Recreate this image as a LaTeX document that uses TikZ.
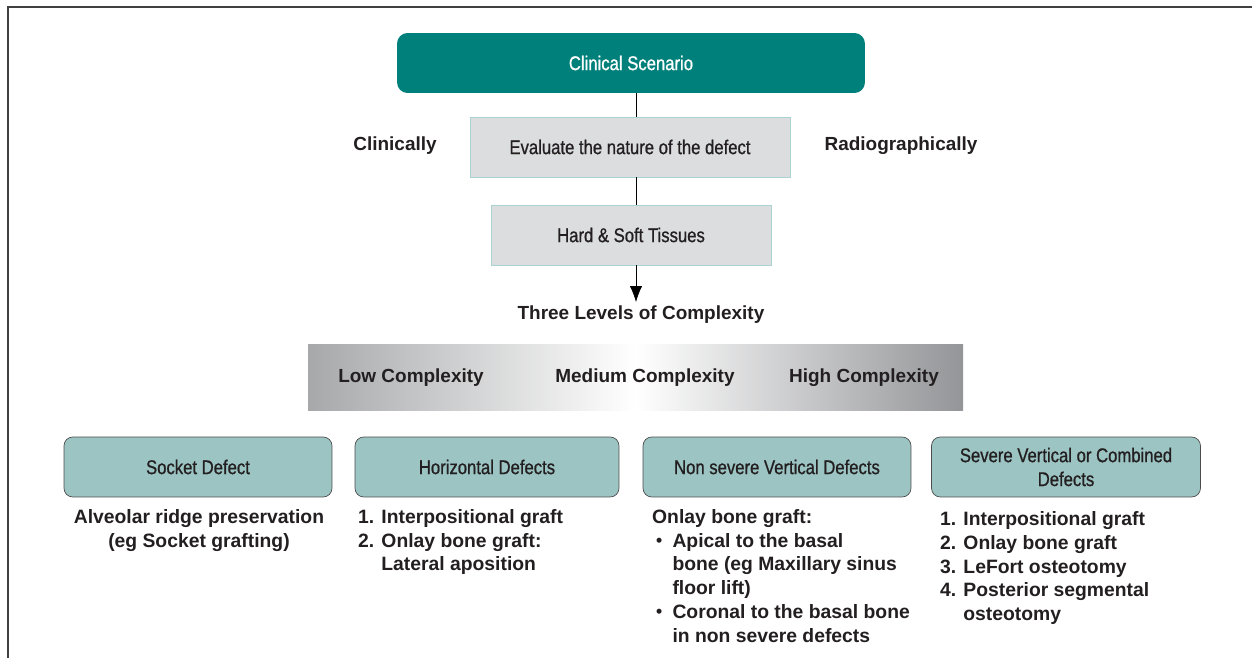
\documentclass[tikz,border=0pt]{standalone}
\usepackage{fontspec}
\setmainfont{Liberation Sans}
\newfontfamily\boxfont[FakeStretch=0.84,FakeBold=0.8]{Liberation Sans}
\newfontfamily\labfont{Liberation Sans Bold}
\usetikzlibrary{arrows.meta}
\definecolor{teal1}{RGB}{0,128,122}
\definecolor{boxgray}{RGB}{220,221,223}
\definecolor{boxline}{RGB}{169,210,209}
\definecolor{mint}{RGB}{155,196,195}
\definecolor{ink}{RGB}{35,31,32}
\definecolor{barl}{RGB}{167,168,170}
\definecolor{barr}{RGB}{148,149,152}
\tikzset{
  graybox/.style={draw=boxline, fill=boxgray, minimum height=1.2cm, text=ink,
    font=\boxfont\fontsize{11.3}{13}\selectfont},
  defbox/.style={draw=black!70, fill=mint, rounded corners=5pt, minimum width=5.36cm,
    minimum height=1.2cm, text=ink, align=center, font=\boxfont\fontsize{11.3}{13.6}\selectfont},
  lab/.style={text=ink, font=\labfont\fontsize{10.8}{13.6}\selectfont},
  list/.style={text=ink, font=\labfont\fontsize{11}{13.6}\selectfont},
}
\newcommand\dotitem{\makebox[1.05em][l]{\hspace{0.2em}\raisebox{0.05em}{\fontsize{10}{10}\selectfont\textbullet}}}

\begin{document}
\begin{tikzpicture}[x=0.02cm, y=-0.02cm]
\useasboundingbox (0,0) rectangle (1252,658);
\draw[black!75, line width=1.2pt] (1252,7)--(8,7)--(8,658);
\node[fill=teal1, rounded corners=6pt, minimum width=9.36cm, minimum height=1.2cm, text=white,
  font=\boxfont\fontsize{11.3}{13}\selectfont](cs) at(631,63){Clinical Scenario};
\node[graybox, minimum width=6.4cm](ev) at(630,147){Evaluate the nature of the defect};
\node[graybox, minimum width=5.6cm](hs) at(631,235){Hard \& Soft Tissues};
\node[lab](cl) at(395,146){Clinically};
\node[lab](rg) at(901,146){Radiographically};
\node[lab](tl) at(641,315){Three Levels of Complexity};
\draw (cs.south-|636,0)--(ev.north-|636,0);
\draw (ev.south-|636,0)--(hs.north-|636,0);
\draw[-{Latex[length=9pt,width=7pt]}] (hs.south-|636,0)--(636,302);
\shade[left color=barl, right color=barr, middle color=white] (308,345) rectangle (963,411);
\node[lab](lo) at(411,378){Low Complexity};
\node[lab](me) at(645,378){Medium Complexity};
\node[lab](hi) at(864,378){High Complexity};
\node[defbox](d1) at(198,467){Socket Defect};
\node[defbox, minimum width=5.28cm](d2) at(487,467){Horizontal Defects};
\node[defbox](d3) at(777,467){Non severe Vertical Defects};
\node[defbox, minimum width=5.38cm](d4) at(1066,467){Severe Vertical or Combined\\Defects};
\node[list, align=center, anchor=north](t1) at(199,503){Alveolar ridge preservation\\(eg Socket grafting)};
\node[list, align=left, anchor=north west](t2) at(352,503){1. Interpositional graft\\2. Onlay bone graft:\\\hspace*{1.2em}Lateral aposition};
\node[list, align=left, anchor=north west](t3) at(646,503){Onlay bone graft:\\
  \dotitem Apical to the basal\\
  \hspace*{1.05em}bone (eg Maxillary sinus\\
  \hspace*{1.05em}floor lift)\\
  \dotitem Coronal to the basal bone\\
  \hspace*{1.05em}in non severe defects};
\node[list, align=left, anchor=north west](t4) at(934,505){1. Interpositional graft\\2. Onlay bone graft\\3. LeFort osteotomy\\
  4. Posterior segmental\\\hspace*{1.2em}osteotomy};
\end{tikzpicture}
\end{document}
